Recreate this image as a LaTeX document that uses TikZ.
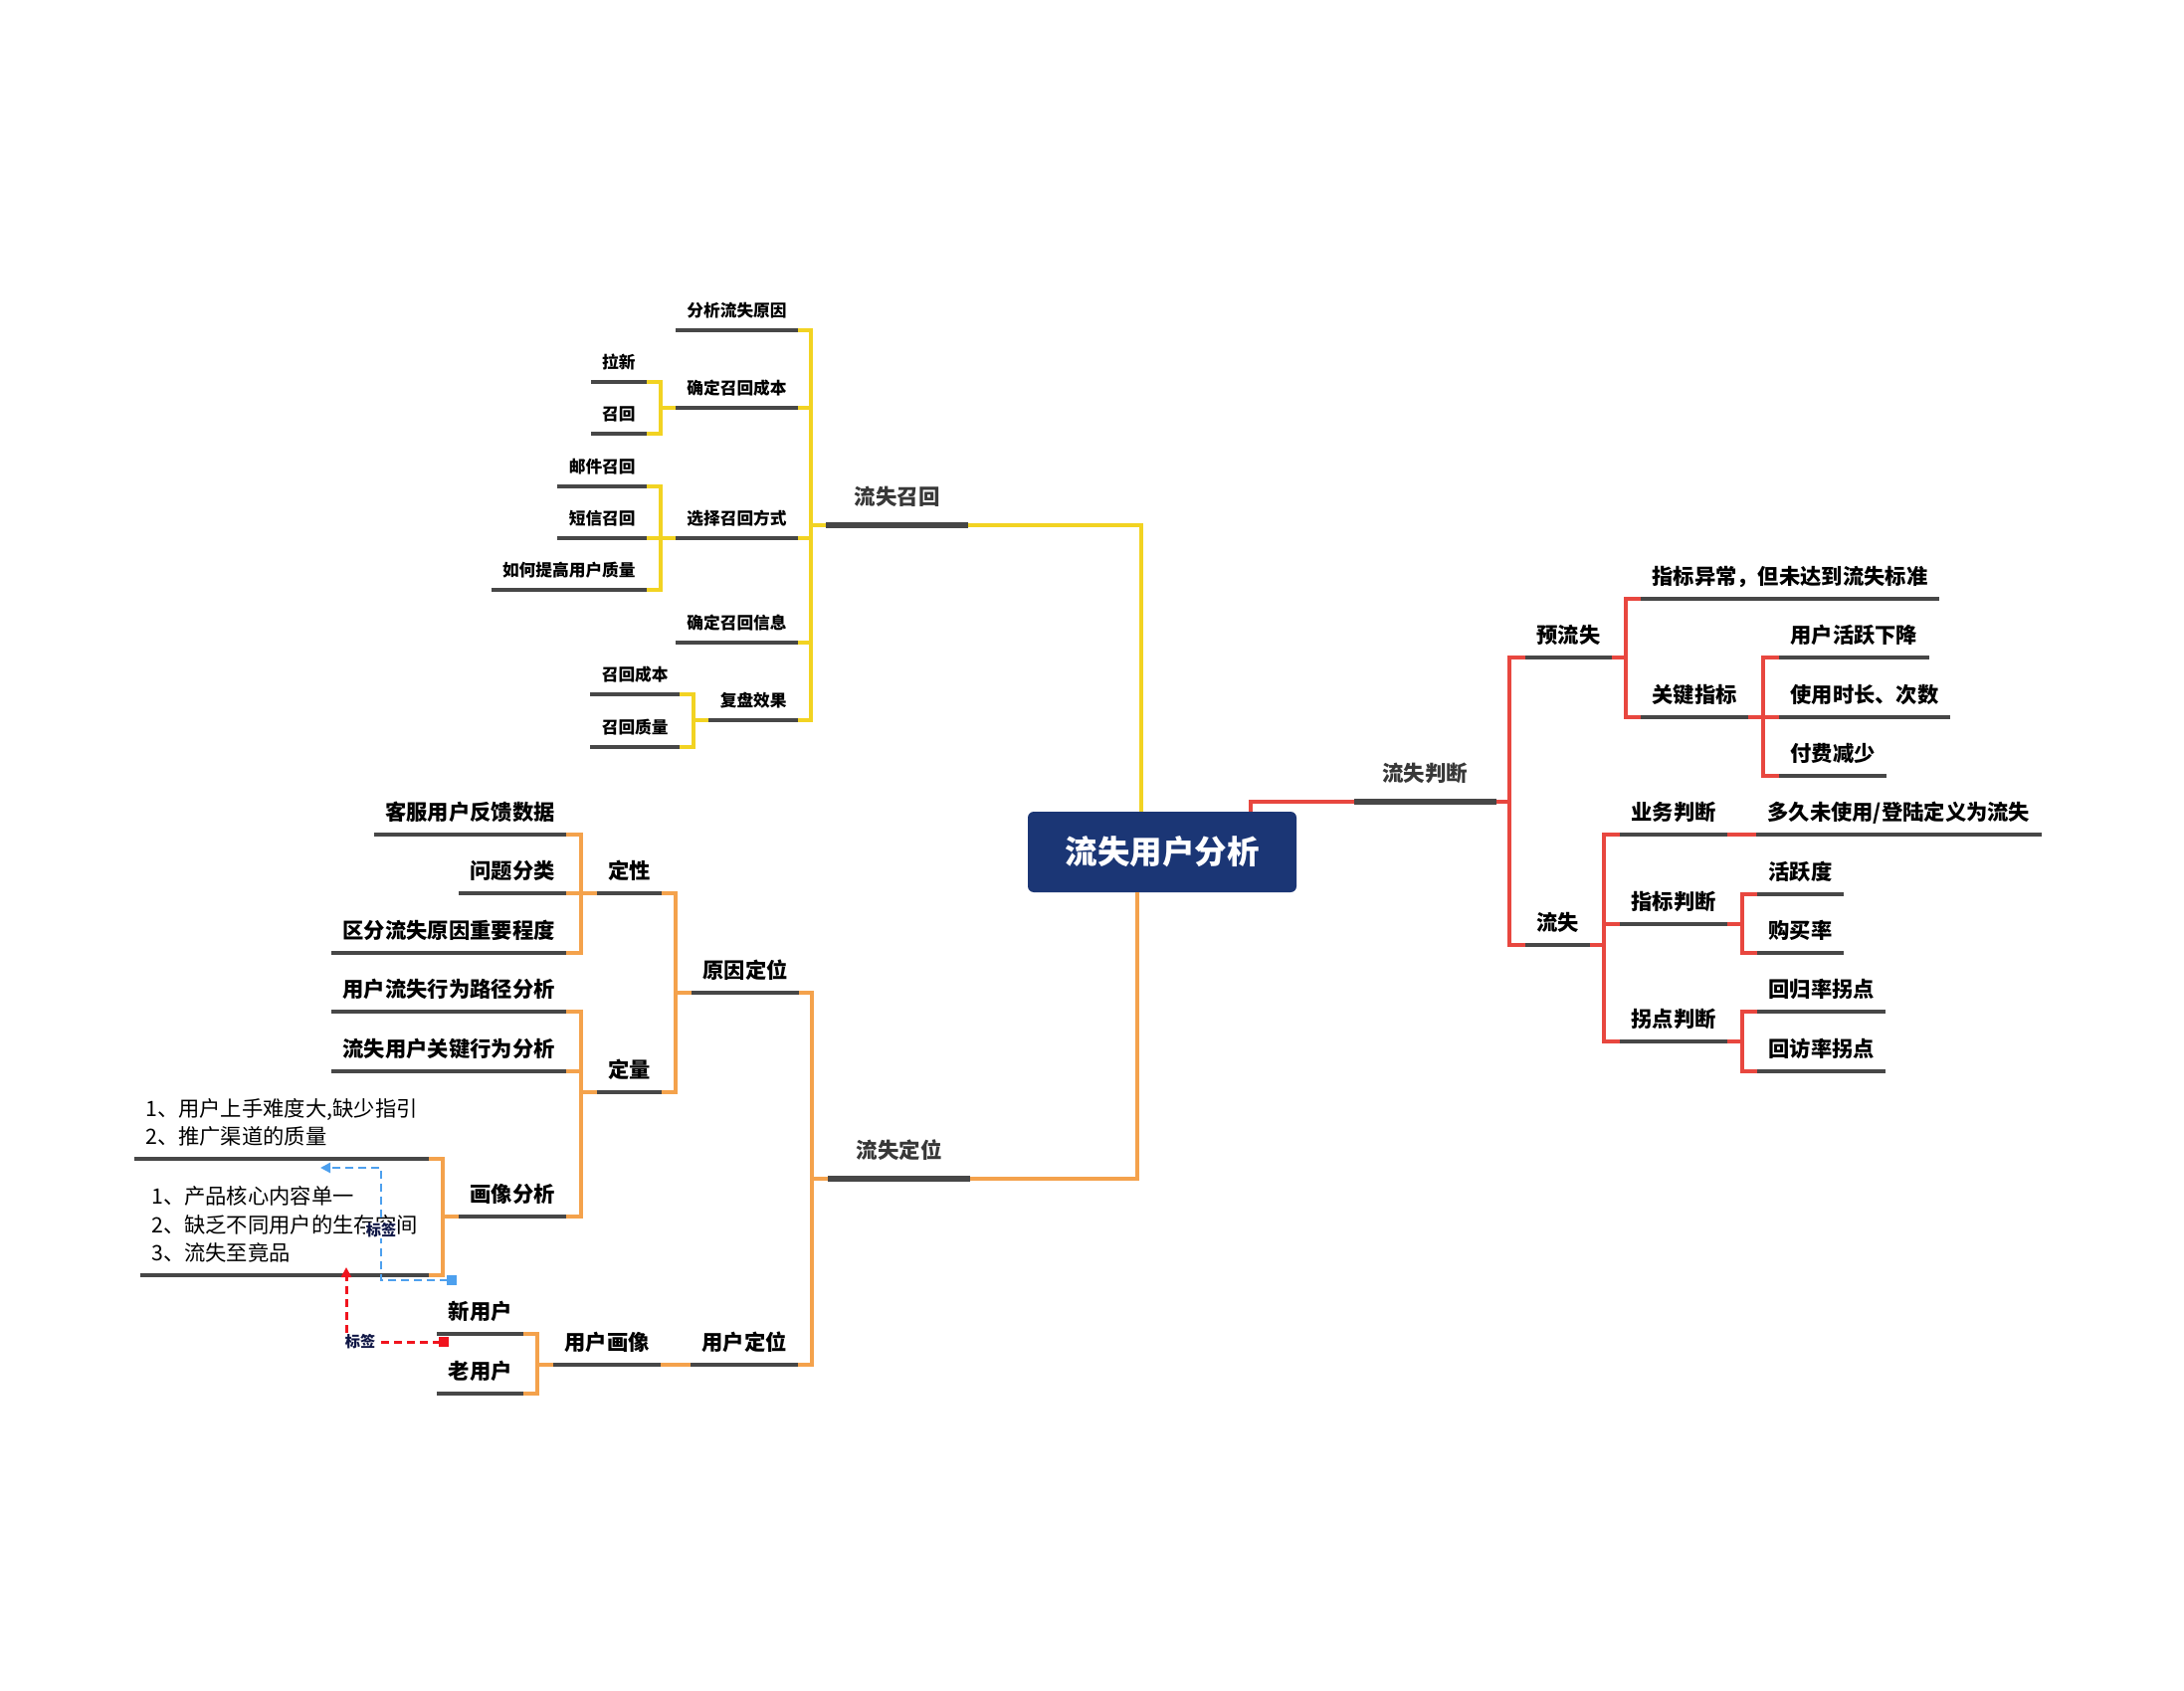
\documentclass[tikz,border=0pt]{standalone}
\usepackage{fontspec}
\newfontfamily\cjk{Noto Sans CJK SC}
\usetikzlibrary{arrows.meta,calc}
\definecolor{myyellow}{HTML}{F2D322}
\definecolor{myred}{HTML}{E8473F}
\definecolor{myorange}{HTML}{F4A24C}
\definecolor{navy}{HTML}{1B3675}
\definecolor{ulgrey}{HTML}{474747}
\definecolor{lgrey}{HTML}{383838}
\definecolor{dblue}{HTML}{4DA0EE}
\definecolor{dred}{HTML}{F0141E}
\definecolor{lblc}{HTML}{0F1645}
\tikzset{
  nt/.style={font=\cjk\bfseries\fontsize{10.65}{13}\selectfont, inner ysep=7pt, inner xsep=5.5pt, text depth=0pt},
  st/.style={font=\cjk\bfseries\fontsize{8.35}{10}\selectfont, inner ysep=6.4pt, inner xsep=5.5pt, text depth=0pt},
  lt/.style={font=\cjk\bfseries\fontsize{10.75}{13}\selectfont, text=lgrey, inner ysep=10.2pt, inner xsep=14pt, text depth=0pt},
  bt/.style={font=\cjk\fontsize{10.65}{14.25}\selectfont, align=left, inner ysep=7pt, inner xsep=5.5pt, text depth=0pt},
  lft/.style={anchor=south east},
  rgt/.style={anchor=south west},
  ul/.style={draw=ulgrey, line width=1.75pt},
  ulthick/.style={draw=ulgrey, line width=3.2pt},
  ycon/.style={draw=myyellow, line width=2pt},
  rcon/.style={draw=myred, line width=2pt},
  ocon/.style={draw=myorange, line width=2pt},
  rootbox/.style={fill=navy, rounded corners=3pt, minimum width=135pt, minimum height=40.5pt, text=white, font=\cjk\bfseries\fontsize{16.25}{18}\selectfont},
  bdash/.style={draw=dblue, line width=1.3pt, dash pattern=on 4pt off 2.5pt, {Square[length=5pt,width=5pt]}-{Triangle[length=5pt,width=5pt]}},
  rdash/.style={draw=dred, line width=1.5pt, dash pattern=on 4pt off 2.5pt, {Square[length=5pt,width=5pt]}-{Triangle[length=5pt,width=5pt]}},
  lbl/.style={fill=white, inner sep=0.5pt, text=lblc, font=\cjk\bfseries\fontsize{7.6}{9}\selectfont}
}
\begin{document}
\begin{tikzpicture}[x=0.5pt,y=-0.5pt]
\useasboundingbox (0,0) rectangle (2195,1700);
\fill[white] (0,0) rectangle (2195,1700);
% root
\node[rootbox] (root) at (1168,856.5) {流失用户分析};
% yellow branch
\node[lt,lft] (lszh) at (973,528) {流失召回};
\node[st,lft] (fxyy) at (802,332) {分析流失原因};
\node[st,lft] (qdcb) at (802,410) {确定召回成本};
\node[st,lft] (xzfs) at (802,541) {选择召回方式};
\node[st,lft] (qdxx) at (802,646) {确定召回信息};
\node[st,lft] (fpxg) at (802,724) {复盘效果};
\node[st,lft] (lx) at (650,384) {拉新};
\node[st,lft] (zh) at (650,436) {召回};
\node[st,lft] (yj) at (650,489) {邮件召回};
\node[st,lft] (dxzh) at (650,541) {短信召回};
\node[st,lft] (rhtg) at (650,593) {如何提高用户质量};
\node[st,lft] (zhcb) at (683,698) {召回成本};
\node[st,lft] (zhzl) at (683,751) {召回质量};
% red branch
\node[lt,rgt] (lspd) at (1361,806) {流失判断};
\node[nt,rgt] (yls) at (1533,661) {预流失};
\node[nt,rgt] (ls) at (1533,950) {流失};
\node[nt,rgt] (zbyc) at (1649,602) {指标异常，但未达到流失标准};
\node[nt,rgt] (gjzb) at (1649,721) {关键指标};
\node[nt,rgt] (hyxj) at (1788,661) {用户活跃下降};
\node[nt,rgt] (sysc) at (1788,721) {使用时长、次数};
\node[nt,rgt] (ffjs) at (1788,780) {付费减少};
\node[nt,rgt] (ywpd) at (1628,839) {业务判断};
\node[nt,rgt] (djwsy) at (1765,839) {多久未使用/登陆定义为流失};
\node[nt,rgt] (zbpd) at (1628,929) {指标判断};
\node[nt,rgt] (gdpd) at (1628,1047) {拐点判断};
\node[nt,rgt] (hyd) at (1766,899) {活跃度};
\node[nt,rgt] (gml) at (1766,958) {购买率};
\node[nt,rgt] (hgl) at (1766,1017) {回归率拐点};
\node[nt,rgt] (hfl) at (1766,1077) {回访率拐点};
% orange branch
\node[lt,lft] (lsdw) at (975,1185) {流失定位};
\node[nt,lft] (yydw) at (803,998) {原因定位};
\node[nt,lft] (yhdw) at (802,1372) {用户定位};
\node[nt,lft] (dx) at (665,898) {定性};
\node[nt,lft] (dl) at (665,1098) {定量};
\node[nt,lft] (kf) at (569,839) {客服用户反馈数据};
\node[nt,lft] (wtfl) at (569,898) {问题分类};
\node[nt,lft] (qf) at (569,958) {区分流失原因重要程度};
\node[nt,lft] (yhls) at (569,1017) {用户流失行为路径分析};
\node[nt,lft] (lsgj) at (569,1077) {流失用户关键行为分析};
\node[nt,lft] (hxfx) at (569,1223) {画像分析};
\node[bt,lft] (tb1) at (431,1165) {1、用户上手难度大,缺少指引\\2、推广渠道的质量};
\node[bt,lft] (tb2) at (431,1282) {1、产品核心内容单一\\2、缺乏不同用户的生存空间\\3、流失至竟品};
\node[nt,lft] (yhhx) at (664,1372) {用户画像};
\node[nt,lft] (xyh) at (526,1341) {新用户};
\node[nt,lft] (lyh) at (526,1401) {老用户};
% connectors yellow
\draw[ycon] ($(root.north)+(-21,0)$) |- (lszh.south east);
\foreach \c in {fxyy,qdcb,xzfs,qdxx,fpxg}
  \draw[ycon] (lszh.south west) -- ++(-15,0) |- (\c.south east);
\foreach \c in {lx,zh}
  \draw[ycon] (qdcb.south west) -- ++(-15,0) |- (\c.south east);
\foreach \c in {yj,dxzh,rhtg}
  \draw[ycon] (xzfs.south west) -- ++(-15,0) |- (\c.south east);
\foreach \c in {zhcb,zhzl}
  \draw[ycon] (fpxg.south west) -- ++(-15,0) |- (\c.south east);
% connectors red
\draw[rcon] ($(root.north)+(89,0)$) |- (lspd.south west);
\foreach \c in {yls,ls}
  \draw[rcon] (lspd.south east) -- ++(13,0) |- (\c.south west);
\foreach \c in {zbyc,gjzb}
  \draw[rcon] (yls.south east) -- ++(14,0) |- (\c.south west);
\foreach \c in {hyxj,sysc,ffjs}
  \draw[rcon] (gjzb.south east) -- ++(15,0) |- (\c.south west);
\foreach \c in {ywpd,zbpd,gdpd}
  \draw[rcon] (ls.south east) -- ++(14,0) |- (\c.south west);
\draw[rcon] (ywpd.south east) -- (djwsy.south west);
\foreach \c in {hyd,gml}
  \draw[rcon] (zbpd.south east) -- ++(15,0) |- (\c.south west);
\foreach \c in {hgl,hfl}
  \draw[rcon] (gdpd.south east) -- ++(15,0) |- (\c.south west);
% connectors orange
\draw[ocon] ($(root.south)+(-25,0)$) |- (lsdw.south east);
\foreach \c in {yydw,yhdw}
  \draw[ocon] (lsdw.south west) -- ++(-16,0) |- (\c.south east);
\foreach \c in {dx,dl}
  \draw[ocon] (yydw.south west) -- ++(-16,0) |- (\c.south east);
\foreach \c in {kf,wtfl,qf}
  \draw[ocon] (dx.south west) -- ++(-16,0) |- (\c.south east);
\foreach \c in {yhls,lsgj,hxfx}
  \draw[ocon] (dl.south west) -- ++(-16,0) |- (\c.south east);
\foreach \c in {tb1,tb2}
  \draw[ocon] (hxfx.south west) -- ++(-16,0) |- (\c.south east);
\draw[ocon] (yhdw.south west) -- (yhhx.south east);
\foreach \c in {xyh,lyh}
  \draw[ocon] (yhhx.south west) -- ++(-16,0) |- (\c.south east);
% underlines
\foreach \n in {lszh,lspd,lsdw}
  \draw[ulthick] (\n.south west) -- (\n.south east);
\foreach \n in {fxyy,qdcb,xzfs,qdxx,fpxg,lx,zh,yj,dxzh,rhtg,zhcb,zhzl,
  yls,ls,zbyc,gjzb,hyxj,sysc,ffjs,ywpd,djwsy,zbpd,gdpd,hyd,gml,hgl,hfl,
  yydw,yhdw,dx,dl,kf,wtfl,qf,yhls,lsgj,hxfx,tb1,tb2,yhhx,xyh,lyh}
  \draw[ul] (\n.south west) -- (\n.south east);
% dashed relationships
\coordinate (bs) at (459,1287);
\coordinate (bc) at (383,1174);
\coordinate (be) at (322,1174);
\draw[bdash] (bs) -| (bc) -- (be);
\coordinate (rs) at (451,1349);
\coordinate (re) at (348,1274);
\draw[rdash] (rs) -| (re);
\node[lbl] (lb1) at (383,1237) {标签};
\node[lbl] (lb2) at (362,1349) {标签};
\end{tikzpicture}
\end{document}
